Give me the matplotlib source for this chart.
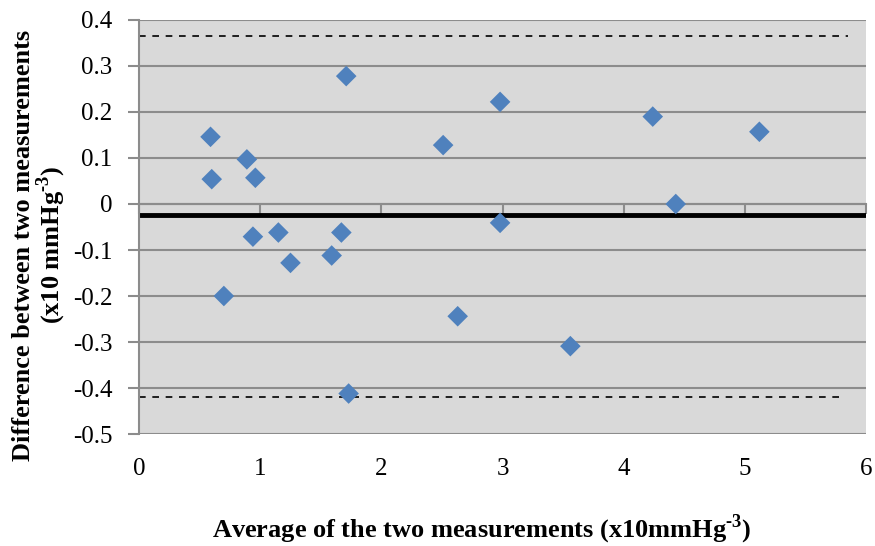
import numpy as np
import matplotlib
matplotlib.use('Agg')
import matplotlib.pyplot as plt

matplotlib.rcParams['font.family'] = 'serif'
matplotlib.rcParams['font.serif'] = ['Liberation Serif']
matplotlib.rcParams['mathtext.fontset'] = 'custom'
matplotlib.rcParams['mathtext.rm'] = 'Liberation Serif:bold'
matplotlib.rcParams['mathtext.bf'] = 'Liberation Serif:bold'

# Bland-Altman data
avg = [0.59, 0.60, 0.89, 0.96, 0.70, 0.94, 1.15, 1.25, 1.59, 1.67,
       1.71, 1.73, 2.51, 2.63, 2.98, 2.98, 3.56, 4.24, 4.43, 5.12]
diff = [0.146, 0.054, 0.097, 0.057, -0.200, -0.071, -0.062, -0.128, -0.112, -0.062,
        0.278, -0.412, 0.128, -0.244, 0.222, -0.041, -0.309, 0.190, 0.000, 0.157]

mean_diff = -0.025
upper_loa = 0.365
lower_loa = -0.419
upper_xmax = 5.85
lower_xmax = 5.8

y_ticks = [0.4, 0.3, 0.2, 0.1, 0, -0.1, -0.2, -0.3, -0.4, -0.5]
x_ticks = [0, 1, 2, 3, 4, 5, 6]

tick_font = 18
xlabel_font = 19
ylabel_font = 19
grid_color = '#8c8c8c'

fig = plt.figure(figsize=(8.75, 5.46), dpi=100)
ax = fig.add_axes([0.1589, 0.2051, 0.8308, 0.7583])
ax.set_facecolor('#d9d9d9')

ax.set_xlim(0, 6)
ax.set_ylim(-0.5, 0.4)

# horizontal gridlines
ax.set_yticks(y_ticks)
ax.set_yticklabels(['%g' % v for v in y_ticks])
ax.yaxis.grid(True, color=grid_color, linewidth=1.5)
ax.set_axisbelow(True)

# limits of agreement and mean
ax.plot([0, upper_xmax], [upper_loa, upper_loa], color='black', linestyle=(0, (4, 4)), linewidth=1.2, zorder=2)
ax.plot([0, lower_xmax], [lower_loa, lower_loa], color='black', linestyle=(0, (4, 4)), linewidth=1.2, zorder=2)
ax.axhline(mean_diff, color='black', linewidth=3.5, zorder=2)

ax.scatter(avg, diff, marker='D', s=110, color='#4f81bd', edgecolors='none', zorder=3)

# spines
ax.spines['top'].set_visible(False)
ax.spines['right'].set_visible(False)
ax.spines['left'].set_color(grid_color)
ax.spines['left'].set_linewidth(1.5)
ax.spines['bottom'].set_position(('data', 0))
ax.spines['bottom'].set_color(grid_color)
ax.spines['bottom'].set_linewidth(1.5)

ax.set_xticks(x_ticks)
ax.tick_params(axis='x', direction='out', length=7, width=1.5, color=grid_color, labelbottom=False)
ax.tick_params(axis='y', direction='out', length=8, width=1.5, color=grid_color, labelsize=tick_font, pad=11)

# x tick labels at the bottom of the plot area
sec = ax.secondary_xaxis(0)
sec.set_xticks(x_ticks)
sec.set_xticklabels([str(v) for v in x_ticks])
sec.spines['bottom'].set_visible(False)
sec.tick_params(length=0, labelsize=tick_font, pad=17)

fig.text(0.551, 0.03, r'Average of the two measurements (x10mmHg$^{\text{-3}}$)',
         fontsize=xlabel_font, fontweight='bold', ha='center', va='center')
fig.text(0.046, 0.551, 'Difference between two measurements\n' + r'(x10 mmHg$^{\text{-3}}$)',
         fontsize=ylabel_font, fontweight='bold', ha='center', va='center', rotation=90,
         multialignment='center', linespacing=1.0)

plt.savefig('out.png', dpi=100)
